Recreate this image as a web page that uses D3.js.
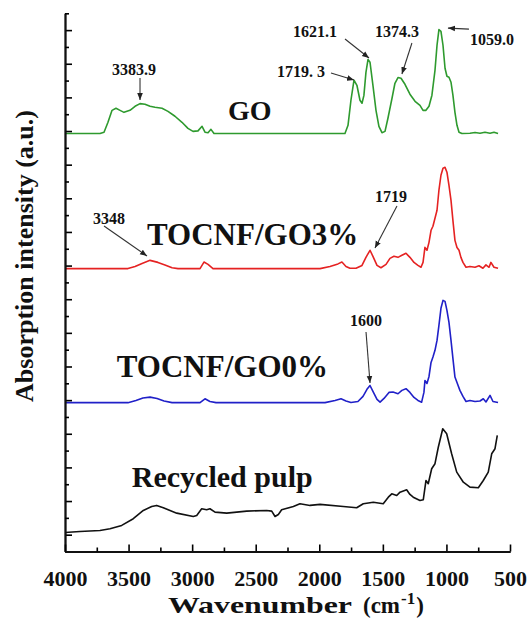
<!DOCTYPE html>
<html>
<head>
<meta charset="utf-8">
<script src="https://cdn.jsdelivr.net/npm/d3@7"></script>
<style>
  body { margin: 0; background: #fff; }
  text { font-family: "Liberation Serif", "Times New Roman", serif; font-weight: bold; fill: #111; }
</style>
</head>
<body>
<svg id="chart"></svg>
<script>
// spectra: [wavenumber (cm-1), intensity in tick units]
const goSpectrum = [
  [4000,24.85],[3725,24.85],[3693,24.93],[3662,25.52],[3630,26.23],[3599,26.35],[3567,26.23],[3536,26.11],
  [3489,26.23],[3449,26.47],[3410,26.63],[3371,26.59],[3331,26.47],[3292,26.41],[3237,26.35],[3190,26.17],
  [3135,25.88],[3080,25.52],[3033,25.16],[2993,24.98],[2954,25.01],[2922,25.28],[2899,24.93],[2875,24.90],
  [2852,25.10],[2828,24.85],[1798,24.85],[1774,25.34],[1751,26.83],[1727,28.02],[1704,27.72],[1680,26.83],
  [1664,26.65],[1649,27.12],[1633,28.49],[1617,29.25],[1601,29.09],[1578,27.72],[1554,26.23],[1531,25.28],
  [1507,24.90],[1483,24.98],[1460,25.76],[1428,26.95],[1405,27.84],[1381,28.18],[1357,28.14],[1326,27.78],
  [1287,27.19],[1247,26.77],[1208,26.53],[1184,26.23],[1161,26.23],[1137,26.47],[1114,27.13],[1090,28.61],
  [1074,30.10],[1059,31.03],[1043,30.93],[1027,30.10],[1011,28.73],[996,28.26],[980,28.20],[964,27.90],
  [949,27.13],[933,26.11],[917,25.34],[901,24.93],[878,24.85],[815,24.87],[775,24.91],[736,24.87],
  [697,24.93],[657,24.87],[626,24.93],[594,24.85]
];
const go3Spectrum = [
  [4000,16.82],[3505,16.82],[3449,16.95],[3394,17.13],[3331,17.31],[3269,17.19],[3214,17.04],[3158,16.87],
  [3111,16.82],[2938,16.82],[2907,17.21],[2875,17.07],[2836,16.82],[1994,16.82],[1916,16.95],[1853,17.10],
  [1822,17.21],[1790,16.95],[1759,16.84],[1711,16.84],[1664,17.01],[1633,17.49],[1601,17.91],[1578,17.55],
  [1546,17.01],[1515,16.87],[1475,17.07],[1444,17.43],[1413,17.55],[1381,17.49],[1350,17.61],[1318,17.73],
  [1287,17.49],[1255,17.19],[1224,17.01],[1200,16.90],[1184,17.19],[1169,18.08],[1153,17.91],[1137,18.38],
  [1121,19.10],[1106,19.34],[1090,19.81],[1074,20.29],[1059,21.48],[1043,22.37],[1027,22.79],[1011,22.84],
  [996,22.55],[980,21.77],[964,20.88],[949,19.69],[933,18.50],[917,18.08],[901,17.91],[886,17.49],
  [870,17.19],[846,16.90],[815,16.95],[775,16.90],[744,16.99],[713,16.84],[689,17.04],[665,16.90],
  [650,17.19],[626,16.90],[594,16.84]
];
const go0Spectrum = [
  [4000,8.85],[3505,8.85],[3442,8.98],[3387,9.13],[3331,9.18],[3276,9.10],[3221,8.95],[3158,8.85],
  [2938,8.85],[2899,9.08],[2860,8.92],[2812,8.85],[1955,8.85],[1876,8.98],[1829,9.08],[1790,8.95],
  [1751,8.86],[1696,8.92],[1656,9.22],[1625,9.64],[1601,9.87],[1578,9.52],[1546,9.04],[1522,8.88],
  [1491,9.10],[1452,9.46],[1420,9.48],[1381,9.38],[1350,9.58],[1318,9.68],[1287,9.46],[1255,9.16],
  [1224,8.98],[1195,8.88],[1177,9.46],[1169,10.17],[1153,9.99],[1137,10.41],[1121,11.24],[1106,11.56],
  [1090,11.96],[1074,12.55],[1059,13.44],[1043,14.46],[1027,14.93],[1011,14.87],[996,14.34],[980,13.62],
  [964,12.55],[949,11.48],[933,10.37],[917,10.05],[894,9.58],[870,9.22],[846,8.92],[815,8.98],
  [775,8.92],[736,8.95],[710,9.08],[689,8.89],[657,9.28],[634,8.92],[594,8.86]
];
const pulpSpectrum = [
  [4000,1.13],[3882,1.19],[3725,1.25],[3646,1.35],[3554,1.55],[3463,1.95],[3384,2.44],[3318,2.68],
  [3279,2.74],[3227,2.60],[3121,2.28],[2991,2.08],[2964,2.14],[2925,2.54],[2886,2.48],[2860,2.54],
  [2820,2.34],[2728,2.28],[2571,2.40],[2414,2.44],[2374,2.40],[2348,2.08],[2322,2.20],[2296,2.48],
  [2204,2.68],[2152,2.84],[2073,2.74],[1994,2.80],[1811,2.68],[1706,2.60],[1654,2.84],[1575,2.93],
  [1497,2.84],[1457,3.23],[1430,3.43],[1391,3.33],[1365,3.53],[1313,3.67],[1287,3.39],[1261,3.23],
  [1208,3.03],[1182,3.08],[1161,4.22],[1143,4.03],[1116,4.92],[1090,5.22],[1064,6.20],[1029,7.30],
  [998,7.00],[959,5.81],[919,4.72],[867,4.12],[815,3.83],[749,3.79],[710,4.22],[671,4.72],
  [644,5.81],[618,6.11],[600,6.90]
];

const seriesNames = ['GO', 'TOCNF/GO3%', 'TOCNF/GO0%', 'Recycled pulp'];
const xTickValues = [4000, 3500, 3000, 2500, 2000, 1500, 1000, 500];

// peak annotations: label and the point the arrow touches
const peakLabels = ['3383.9', '1719. 3', '1621.1', '1374.3', '1059.0', '3348', '1719', '1600'];
const peakTips = [[3410,26.84],[1727,28.03],[1609,29.34],[1350,28.39],[988,31.12],[3355,17.57],[1562,18.04],[1601,10.02]];

const w = 530;
const h = 619;
const plotLeft = 65, plotRight = 510, plotTop = 13.3, plotBottom = 551.5;

const x = d3.scaleLinear().domain([4000, 500]).range([plotLeft, plotRight]);
const y = d3.scaleLinear().domain([0, 32]).range([plotBottom, plotTop]);

const svg = d3.select('#chart').attr('width', w).attr('height', h);

// Curves
const spectra = [goSpectrum, go3Spectrum, go0Spectrum, pulpSpectrum];
const colors = ['#2e9a2e', '#e52222', '#2020c8', '#111'];
const line = d3.line().x(d => x(d[0])).y(d => y(d[1]));

svg.append('g').selectAll('path')
  .data(spectra)
  .enter().append('path')
  .attr('d', line)
  .attr('fill', 'none')
  .attr('stroke', (d, i) => colors[i])
  .attr('stroke-width', 1.6)
  .attr('stroke-linejoin', 'round');

// Axes (ticks point inward)
const styleAxis = g => {
  g.select('.domain').attr('stroke-width', 1.8);
  g.selectAll('.tick line').attr('stroke-width', 1.6);
};

svg.append('g')
  .attr('transform', `translate(${plotLeft},0)`)
  .call(d3.axisLeft(y).tickValues(d3.range(1, 33, 2)).tickSize(-7).tickSizeOuter(0).tickFormat(''))
  .call(styleAxis);
svg.append('g')
  .attr('transform', `translate(${plotLeft},0)`)
  .call(d3.axisLeft(y).tickValues(d3.range(0, 33, 2)).tickSize(-4).tickSizeOuter(0).tickFormat(''))
  .call(styleAxis);

const xAxis = svg.append('g')
  .attr('transform', `translate(0,${plotBottom})`)
  .call(d3.axisBottom(x).tickValues(xTickValues).tickFormat(d3.format('d'))
    .tickSize(-7).tickSizeOuter(0).tickPadding(19))
  .call(styleAxis);
xAxis.selectAll('text')
  .attr('font-size', 22)
  .attr('font-family', '"Liberation Serif", "Times New Roman", serif')
  .attr('font-weight', 'bold')
  .attr('fill', '#111');
svg.append('g')
  .attr('transform', `translate(0,${plotBottom})`)
  .call(d3.axisBottom(x).tickValues(xTickValues.slice(1).map(v => v + 250)).tickSize(-4).tickSizeOuter(0).tickFormat(''))
  .call(styleAxis);
svg.selectAll('.domain').attr('stroke', '#111');

// Axis titles
svg.append('text')
  .attr('transform', 'translate(33,256) rotate(-90)')
  .attr('text-anchor', 'middle')
  .attr('font-size', 26)
  .text('Absorption intensity (a.u.)');

const xTitle = svg.append('g').attr('transform', 'translate(168,613)');
xTitle.append('text').attr('font-size', 23)
  .attr('textLength', 184).attr('lengthAdjust', 'spacingAndGlyphs').text('Wavenumber');
const t2 = xTitle.append('text').attr('x', 195).attr('font-size', 23).text('(cm');
const t2w = t2.node().getComputedTextLength();
const t3 = xTitle.append('text').attr('x', 195 + t2w + 1).attr('y', -9).attr('font-size', 17).text('-1');
const t3w = t3.node().getComputedTextLength();
xTitle.append('text').attr('x', 195 + t2w + t3w + 2).attr('font-size', 23).text(')');

// Series labels
const labelSpots = [[2718, 25.65, 28, null], [3355, 18.25, 31, null], [3593, 10.39, 31, null], [3475, 3.85, 29, 181]];
svg.append('g').selectAll('text')
  .data(seriesNames)
  .enter().append('text')
  .attr('x', (d, i) => x(labelSpots[i][0]))
  .attr('y', (d, i) => y(labelSpots[i][1]))
  .attr('font-size', (d, i) => labelSpots[i][2])
  .each(function(d, i) {
    if (labelSpots[i][3]) d3.select(this).attr('textLength', labelSpots[i][3]).attr('lengthAdjust', 'spacingAndGlyphs');
  })
  .text(d => d);

// Peak annotations: arrow tail and label offsets from the tip, in px
const tailOffsets = [[0,-22],[-23,-7],[-24,-19],[10,-31],[21,1],[-43,-30],[22,-42],[-4,-51]];
const labelOffsets = [[-28,-25],[-77,-3.5],[-76,-21],[-27,-37],[22,17],[-54,-32],[0,-46],[-20,-57]];

svg.append('defs').append('marker')
  .attr('id', 'head')
  .attr('viewBox', '0 0 10 10')
  .attr('refX', 10).attr('refY', 5)
  .attr('markerWidth', 7).attr('markerHeight', 7)
  .attr('markerUnits', 'userSpaceOnUse')
  .attr('orient', 'auto')
  .append('path').attr('d', 'M0,1L10,5L0,9Z').attr('fill', '#222');

const notes = svg.append('g');
peakTips.forEach((tip, i) => {
  const tx = x(tip[0]), ty = y(tip[1]);
  notes.append('line')
    .attr('x1', tx + tailOffsets[i][0]).attr('y1', ty + tailOffsets[i][1])
    .attr('x2', tx).attr('y2', ty)
    .attr('stroke', '#333').attr('stroke-width', 1.1)
    .attr('marker-end', 'url(#head)');
  notes.append('text')
    .attr('x', tx + labelOffsets[i][0]).attr('y', ty + labelOffsets[i][1])
    .attr('font-size', 16)
    .text(peakLabels[i]);
});
</script>
</body>
</html>
